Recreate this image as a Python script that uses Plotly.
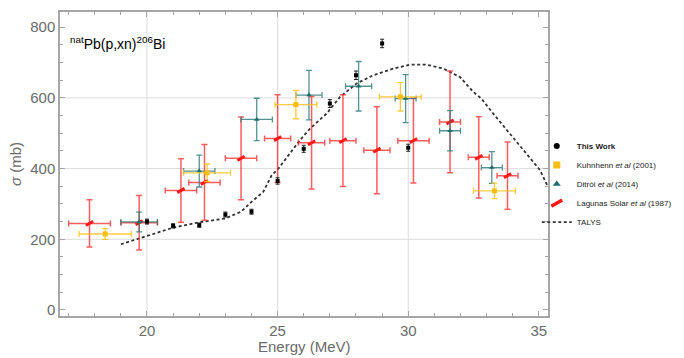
import plotly.graph_objects as go

# ---- data ----
tw_E = [20.0, 21.0, 22.0, 23.0, 24.0, 25.0, 26.0, 27.0, 28.0, 29.0, 30.0]
tw_sig = [250, 238, 240, 270, 278, 365, 456, 584, 664, 754, 459]
tw_err = [7, 6, 6, 7, 7, 9, 10, 11, 12, 12, 10]

ku_E = [18.4, 22.3, 25.7, 29.7, 33.3]
ku_Eerr = [1.0, 0.9, 0.8, 0.8, 0.8]
ku_sig = [215, 388, 581, 603, 337]
ku_err = [15, 25, 40, 40, 22]

di_E = [19.7, 22.0, 24.2, 26.2, 28.1, 29.9, 31.6, 33.2]
di_Eerr = [0.7, 0.6, 0.6, 0.5, 0.5, 0.4, 0.4, 0.4]
di_sig = [249, 393, 539, 608, 633, 598, 507, 403]
di_err = [28, 45, 60, 70, 70, 68, 57, 45]

la_E = [17.8, 19.7, 21.3, 22.2, 23.6, 25.0, 26.3, 27.5, 28.8, 30.2, 31.6, 32.7, 33.8]
la_Eerr = [0.8, 0.7, 0.6, 0.6, 0.6, 0.5, 0.5, 0.5, 0.5, 0.6, 0.4, 0.4, 0.4]
la_sig = [245, 247, 338, 361, 429, 485, 473, 479, 452, 479, 532, 432, 380]
la_err = [67, 77, 90, 107, 117, 124, 131, 130, 123, 120, 144, 115, 95]

talys_E = [19.0, 20.0, 21.0, 22.0, 23.0, 23.6, 24.0, 24.45, 24.77, 25.03, 25.47, 25.86,
           26.24, 26.88, 27.39, 28.03, 28.66, 29.43, 30.06, 30.7, 31.34, 31.98, 32.49,
           32.8, 33.25, 33.89, 34.53, 35.04, 35.32]
talys_sig = [186, 209, 233, 248, 259, 278, 306, 334, 381, 400, 443, 481,
             513, 556, 603, 641, 664, 683, 694, 694, 683, 659, 617,
             598, 556, 499, 443, 396, 353]

grid_x = [20, 25, 30]
grid_y = [200, 400, 600]
x_ticks = [20, 25, 30, 35]
y_ticks = [0, 200, 400, 600, 800]

RED = "#ff1a1a"
GOLD = "#f7bd10"
TEAL = "#1f6e6e"

fig = go.Figure()

# TALYS
fig.add_trace(go.Scatter(
    x=talys_E, y=talys_sig, mode="lines", name="TALYS",
    line=dict(color="#333333", width=1.8, dash="3px,2.5px"),
    legendrank=5))

# Lagunas Solar
fig.add_trace(go.Scatter(
    x=la_E, y=la_sig, mode="markers", showlegend=False,
    marker=dict(symbol="line-ew", angle=-30, size=6, color=RED,
                line=dict(color=RED, width=3)),
    error_x=dict(type="data", array=la_Eerr, color="rgba(255,40,40,0.75)", thickness=1.5, width=3),
    error_y=dict(type="data", array=la_err, color="rgba(255,40,40,0.75)", thickness=1.5, width=3)))

# Ditroi
fig.add_trace(go.Scatter(
    x=di_E, y=di_sig, mode="markers", showlegend=False,
    marker=dict(symbol="triangle-up", size=5, color=TEAL),
    error_x=dict(type="data", array=di_Eerr, color="rgba(40,120,120,0.8)", thickness=1.3, width=3),
    error_y=dict(type="data", array=di_err, color="rgba(40,120,120,0.8)", thickness=1.3, width=3)))

# Kuhnhenn
fig.add_trace(go.Scatter(
    x=ku_E, y=ku_sig, mode="markers", showlegend=False,
    marker=dict(symbol="square", size=5, color=GOLD),
    error_x=dict(type="data", array=ku_Eerr, color="rgba(250,195,30,0.85)", thickness=1.3, width=3),
    error_y=dict(type="data", array=ku_err, color="rgba(250,195,30,0.85)", thickness=1.3, width=3)))

# This work
fig.add_trace(go.Scatter(
    x=tw_E, y=tw_sig, mode="markers", showlegend=False,
    marker=dict(symbol="square", size=4, color="black"),
    error_y=dict(type="data", array=tw_err, color="#222222", thickness=1, width=2)))

# legend entries
fig.add_trace(go.Scatter(x=[None], y=[None], mode="markers", name="<b>This Work</b>",
                         marker=dict(symbol="circle", size=6, color="black"), legendrank=1))
fig.add_trace(go.Scatter(x=[None], y=[None], mode="markers", name="Kuhnhenn <i>et al</i> (2001)",
                         marker=dict(symbol="square", size=7, color=GOLD), legendrank=2))
fig.add_trace(go.Scatter(x=[None], y=[None], mode="markers", name="Ditrói <i>et al</i> (2014)",
                         marker=dict(symbol="triangle-up", size=7, color=TEAL), legendrank=3))
fig.add_trace(go.Scatter(x=[None], y=[None], mode="markers", name="Lagunas Solar <i>et al</i> (1987)",
                         marker=dict(symbol="line-ew", angle=-30, size=9, color=RED,
                                     line=dict(color=RED, width=3.5)), legendrank=4))

shapes = []
for gx in grid_x:
    shapes.append(dict(type="line", xref="x", yref="paper", x0=gx, x1=gx, y0=0, y1=1,
                       line=dict(color="#dcdcdc", width=1), layer="below"))
for gy in grid_y:
    shapes.append(dict(type="line", xref="paper", yref="y", x0=0, x1=1, y0=gy, y1=gy,
                       line=dict(color="#dcdcdc", width=1), layer="below"))

axis_common = dict(showline=True, linecolor="#a6a6a6", linewidth=1.5, mirror="ticks",
                   ticks="inside", ticklen=5, tickcolor="#a6a6a6", tickwidth=1,
                   showgrid=False, zeroline=False,
                   tickfont=dict(size=15, color="#6b6b6b"))

fig.update_layout(
    width=684, height=358,
    margin=dict(l=52, r=144, t=4, b=50, autoexpand=False),
    paper_bgcolor="white", plot_bgcolor="white",
    font=dict(family="Liberation Sans, Arial, sans-serif"),
    shapes=shapes,
    xaxis=dict(range=[16.67, 35.35], tickvals=x_ticks,
               minor=dict(dtick=1, ticks="inside", ticklen=3, tickcolor="#a6a6a6", showgrid=False),
               **axis_common),
    yaxis=dict(range=[-17, 843], tickvals=y_ticks,
               minor=dict(dtick=50, ticks="inside", ticklen=3, tickcolor="#a6a6a6", showgrid=False),
               **axis_common),
    legend=dict(x=0.977, y=0.434, yanchor="middle", xanchor="left",
                font=dict(size=8, color="#222222"),
                bgcolor="rgba(0,0,0,0)", itemwidth=30, tracegroupgap=0),
    annotations=[
        dict(text="<sup>nat</sup>Pb(p,xn)<sup>206</sup>Bi", xref="paper", yref="paper",
             x=0.016, y=0.899, xanchor="left", yanchor="middle", showarrow=False,
             font=dict(size=14, color="black")),
        dict(text="<i>σ</i> (mb)", xref="paper", yref="paper",
             x=(15 - 60) / 488, y=0.5, xanchor="center", yanchor="middle", showarrow=False,
             textangle=-90, font=dict(size=15, color="#6b6b6b")),
        dict(text="Energy (MeV)", xref="paper", yref="paper",
             x=0.5, y=-(346 - 316) / 304, xanchor="center", yanchor="middle", showarrow=False,
             font=dict(size=15, color="#6b6b6b")),
    ],
)

fig.write_html("out.html")
